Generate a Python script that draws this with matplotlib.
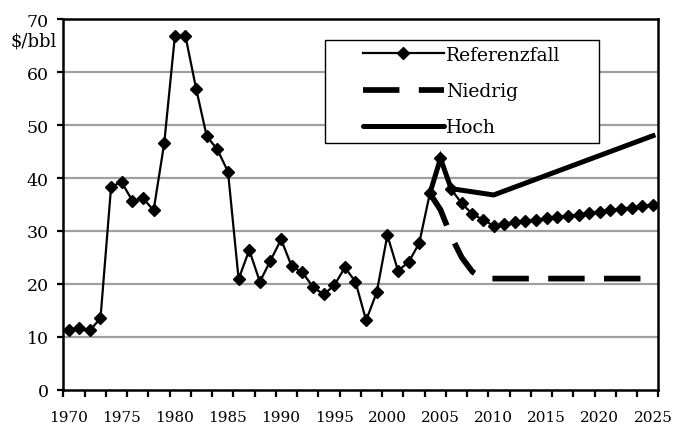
import matplotlib
matplotlib.use("Agg")
import matplotlib.pyplot as plt
from matplotlib.lines import Line2D
from matplotlib.patches import Rectangle

plt.rcParams['font.family'] = ['DejaVu Serif']

# Referenzfall: history 1970-2004 plus projection up to 2025
years = list(range(1970, 2026))
ref = [11.3, 11.6, 11.2, 13.5, 38.4, 39.2, 35.7, 36.2, 33.9, 46.6,
       66.8, 66.8, 56.9, 47.9, 45.4, 41.2, 20.9, 26.4, 20.4, 24.4,
       28.4, 23.3, 22.2, 19.4, 18.0, 19.7, 23.1, 20.4, 13.1, 18.4,
       29.2, 22.5, 24.1, 27.7, 37.1, 43.7, 37.9, 35.2, 33.2, 32.1,
       31.0, 31.3, 31.6, 31.9, 32.1, 32.4, 32.6, 32.9, 33.1, 33.4,
       33.6, 33.9, 34.2, 34.4, 34.7, 35.0]

# Niedrig
low_years = [2004, 2005, 2006, 2007, 2008, 2009, 2010, 2015, 2020, 2025]
low = [37.1, 34.0, 29.0, 25.0, 22.3, 21.0, 21.0, 21.0, 21.0, 21.0]

# Hoch
high_years = [2004, 2005, 2006, 2010, 2025]
high = [37.1, 43.7, 38.0, 36.8, 48.0]

label_years = [1970, 1975, 1980, 1985, 1990, 1995, 2000, 2005, 2010, 2015, 2020, 2025]
series_names = ["Referenzfall", "Niedrig", "Hoch"]

fig = plt.figure(figsize=(6.84, 4.27), dpi=100)
ax = fig.add_axes([63.3 / 684, 1 - 390.7 / 427, 595 / 684, 370.4 / 427])

ax.plot(low_years, low, color="black", lw=4.1, dashes=(6.4, 3.4),
        dash_capstyle="butt", zorder=3)
ax.plot(high_years, high, color="black", lw=3.6, solid_joinstyle="miter", zorder=3)
ax.plot(years, ref, color="black", lw=1.6, marker="D", markersize=6, zorder=4)

ax.set_xlim(1969.5, 2025.5)
ax.set_ylim(0, 70)

# category style axis: tick marks between categories, labels every 5 years
ax.set_xticks([1969.5 + 2 * i for i in range(29)])
ax.set_xticklabels([])
ax.set_xticks(label_years, minor=True)
ax.set_xticklabels([str(y) for y in label_years], minor=True)
ax.tick_params(axis="x", which="major", direction="out", length=5, width=1.6)
ax.tick_params(axis="x", which="minor", length=0, pad=14.5, labelsize=11)

ax.set_yticks(range(0, 71, 10))
ax.tick_params(axis="y", direction="out", length=4, width=1.6, pad=6.5, labelsize=12.5)

for y in range(10, 70, 10):
    ax.axhline(y, color="#a0a0a0", lw=1.6, zorder=1)

for s in ax.spines.values():
    s.set_linewidth(1.8)

fig.text(57 / 684, 1 - 46.7 / 427, "$/bbl", ha="right", va="baseline", fontsize=13)

# legend box drawn by hand so its size matches
ax.add_patch(Rectangle((0.44, 0.666), 0.46, 0.279, transform=ax.transAxes,
                       facecolor="white", edgecolor="black", lw=1.0, zorder=5))
handles = [
    Line2D([], [], color="black", lw=1.6, marker="D", markersize=6),
    Line2D([], [], color="black", lw=4.1, dashes=(6.4, 3.4)),
    Line2D([], [], color="black", lw=3.6, solid_capstyle="round"),
]
leg = ax.legend(handles, series_names, loc="upper left",
                bbox_to_anchor=(0.5037, 0.928), borderaxespad=0, borderpad=0,
                fontsize=13.5, frameon=False, handlelength=4.3,
                handletextpad=0.15, labelspacing=0.97)
leg.set_zorder(6)

fig.savefig("out.png", dpi=100)
